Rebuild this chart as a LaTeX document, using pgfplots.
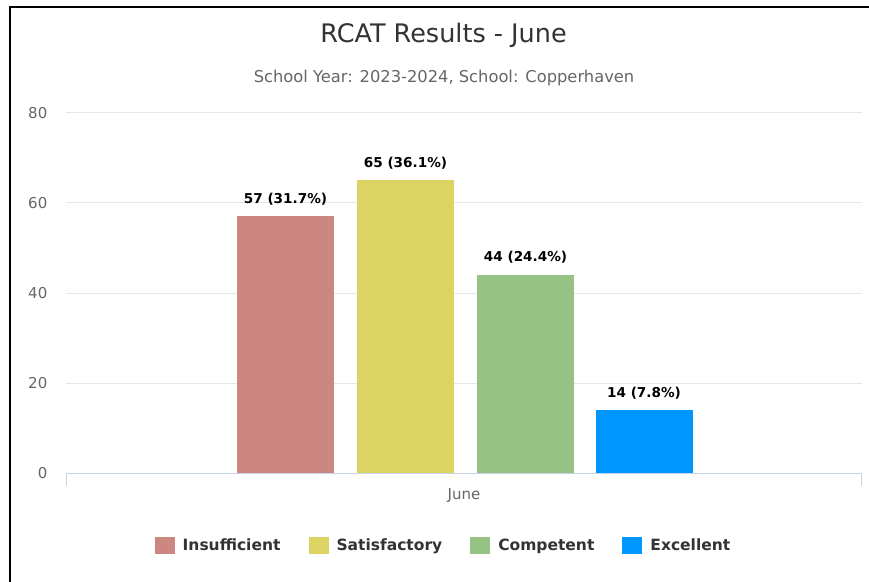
\documentclass[border=0pt]{standalone}
\usepackage{fontspec}
\setmainfont{DejaVu Sans}
\usepackage{pgfplots}
\pgfplotsset{compat=1.18}
\definecolor{cIns}{HTML}{CD8781}
\definecolor{cSat}{HTML}{DCD362}
\definecolor{cCom}{HTML}{96C383}
\definecolor{cExc}{HTML}{0096FF}
\definecolor{gridc}{HTML}{E6E6E6}
\definecolor{axisc}{HTML}{C4D2EA}
\definecolor{titc}{HTML}{333333}
\definecolor{subc}{HTML}{666666}
\begin{document}
\begin{tikzpicture}[x=1pt,y=1pt]
\path[use as bounding box] (0,0) rectangle (869,581);
\fill[white] (0,0) rectangle (869,581);
\draw[black,line width=2.2pt] (10,-2) -- (10,574) -- (871,574);
\node[text=titc,font=\fontsize{25.5}{30}\selectfont] at (443.5,546) {RCAT Results - June};
\node[text=subc,font=\fontsize{16.3}{19}\selectfont] at (444,503) {School Year: 2023-2024, School: Copperhaven};
\begin{axis}[
  at={(66pt,108pt)}, anchor=south west,
  scale only axis, width=796pt, height=360pt,
  xmin=66, xmax=862, ymin=0, ymax=80,
  ybar, bar width=97, bar shift=0pt,
  separate axis lines,
  axis x line=bottom, axis y line=left,
  x axis line style={-, draw=axisc, line width=1pt},
  y axis line style={draw=none},
  ytick={0,20,40,60,80},
  ymajorgrids, grid style={gridc, line width=1pt},
  y tick label style={text=subc, font=\fontsize{15}{18}\selectfont, anchor=east, xshift=-13pt},
  ytick style={draw=none},
  xtick={464}, xticklabels={June},
  x tick label style={text=subc, font=\fontsize{15}{18}\selectfont, yshift=-10pt},
  xtick style={draw=none},
  clip=false,
  /pgf/number format/assume math mode=true,
  nodes near coords style={font=\bfseries\fontsize{13.6}{17}\selectfont, text=black, anchor=base, yshift=13pt, inner sep=0pt},
  legend columns=4,
  legend style={at={(axis cs:443.5,-16)}, anchor=center, draw=none, fill=none,
    font=\bfseries\fontsize{15.5}{19}\selectfont, text=titc,
    /tikz/every odd column/.append style={column sep=6pt},
    /tikz/every even column/.append style={column sep=26pt}},
  legend image code/.code={\fill[#1] (0pt,-8.5pt) rectangle (20pt,8.5pt);},
]
\addplot[fill=cIns, draw=none, nodes near coords={57 (31.7\%)}] coordinates {(285.5,57)};
\addlegendentry{Insufficient}
\addplot[fill=cSat, draw=none, nodes near coords={65 (36.1\%)}] coordinates {(405.5,65)};
\addlegendentry{Satisfactory}
\addplot[fill=cCom, draw=none, nodes near coords={44 (24.4\%)}] coordinates {(525.5,44)};
\addlegendentry{Competent}
\addplot[fill=cExc, draw=none, nodes near coords={14 (7.8\%)}] coordinates {(644,14)};
\addlegendentry{Excellent}
\draw[axisc, line width=1pt] (axis cs:66.5,0) -- ([yshift=-13pt]axis cs:66.5,0);
\draw[axisc, line width=1pt] (axis cs:861.5,0) -- ([yshift=-13pt]axis cs:861.5,0);
\end{axis}
\end{tikzpicture}
\end{document}
